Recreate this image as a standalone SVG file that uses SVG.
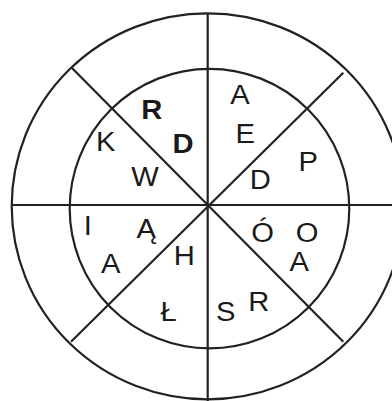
<svg xmlns="http://www.w3.org/2000/svg" width="392" height="401" viewBox="0 0 392 401">
<style>
.ln{fill:none;stroke:#222;stroke-width:2.2}
.t{font-family:"Liberation Sans",Arial,sans-serif;font-size:27px;fill:#1a1a1a;text-anchor:middle}
.b{font-weight:bold}
</style>
<rect width="392" height="401" fill="#fff"/>
<g id="connectors">
<ellipse class="ln" cx="207.7" cy="206.3" rx="196" ry="193"/>
<circle class="ln" cx="209.5" cy="208.6" r="139.8"/>
<line class="ln" x1="207.7" y1="13" x2="207.7" y2="401"/>
<line class="ln" x1="11" y1="205" x2="392" y2="205"/>
<line class="ln" x1="71.7" y1="67.7" x2="343.3" y2="341.7"/>
<line class="ln" x1="343.3" y1="72.8" x2="71" y2="341.7"/>
</g>
<g id="labels" transform="scale(1.08,1)">
<text class="t" x="222.2" y="104">A</text>
<text class="t" x="227.1" y="142.7">E</text>
<text class="t" x="241.0" y="189.3">D</text>
<text class="t" x="285.5" y="170.7">P</text>
<text class="t b" x="140.5" y="119.3">R</text>
<text class="t b" x="169.4" y="152.7">D</text>
<text class="t" x="98.0" y="150.7">K</text>
<text class="t" x="134.3" y="186">W</text>
<text class="t" x="81.2" y="235">I</text>
<text class="t" x="135.5" y="238.3">Ą</text>
<text class="t" x="102.5" y="273.3">A</text>
<text class="t" x="170.6" y="265">H</text>
<text class="t" x="156.2" y="321">Ł</text>
<text class="t" x="209.1" y="321">S</text>
<text class="t" x="239.6" y="310.7">R</text>
<text class="t" x="243.1" y="241.7">Ó</text>
<text class="t" x="284.3" y="241.7">O</text>
<text class="t" x="277.1" y="271">A</text>
</g>
</svg>
